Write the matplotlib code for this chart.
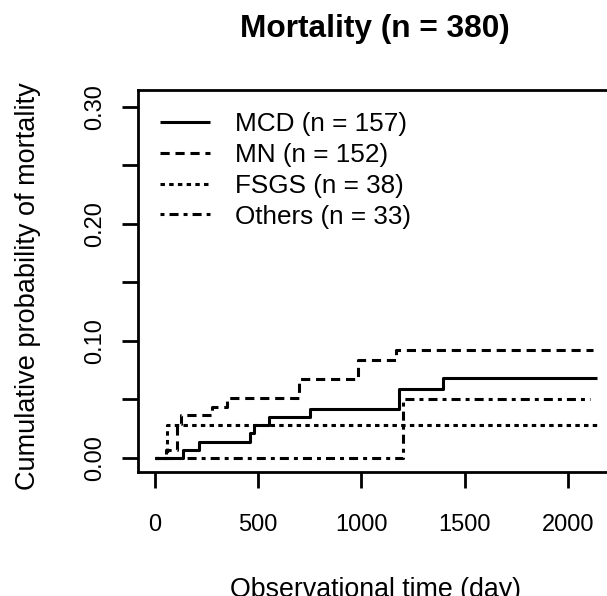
import matplotlib
matplotlib.use("Agg")
import matplotlib.pyplot as plt

plt.rcParams['font.family'] = ['Liberation Sans', 'DejaVu Sans']

# ---- data ----
mcd_t = [0, 137, 215, 460, 478, 554, 751, 1184, 1397, 2140]
mcd_p = [0, 0.0066, 0.0135, 0.021, 0.0275, 0.0345, 0.042, 0.059, 0.068, 0.068]

mn_t = [0, 53, 105, 124, 275, 347, 699, 982, 1166, 2122]
mn_p = [0, 0.0066, 0.029, 0.0365, 0.0436, 0.0513, 0.067, 0.0835, 0.092, 0.092]

fsgs_t = [0, 56, 2140]
fsgs_p = [0, 0.028, 0.028]

oth_t = [0, 1203, 2108]
oth_p = [0, 0.050, 0.050]

labels = ["MCD (n = 157)", "MN (n = 152)", "FSGS (n = 38)", "Others (n = 33)"]
title = "Mortality (n = 380)"
xlabel = "Observational time (day)"
ylabel = "Cumulative probability of mortality"
xticks = [0, 500, 1000, 1500, 2000]
yticks = [0.00, 0.05, 0.10, 0.15, 0.20, 0.25, 0.30]
ytick_labels = ["0.00", "", "0.10", "", "0.20", "", "0.30"]

# ---- figure ----
W, H = 607, 596
fig = plt.figure(figsize=(W / 100, H / 100), dpi=100)

left, right, top, bottom = 137.7, 612.0, 90.0, 471.7
ax = fig.add_axes([left / W, 1 - bottom / H, (right - left) / W, (bottom - top) / H])

lw = 2.2
styles = [
    dict(linestyle='-'),
    dict(linestyle=(0, (3.0, 1.9))),
    dict(linestyle=(0, (1.45, 1.4))),
    dict(linestyle=(0, (1.3, 1.65, 2.95, 1.65))),
]
series = [(mcd_t, mcd_p), (mn_t, mn_p), (fsgs_t, fsgs_p), (oth_t, oth_p)]
for (t, p), st, lab in zip(series, styles, labels):
    ax.step(t, p, where='post', color='black', lw=lw, label=lab,
            solid_capstyle='butt', dash_capstyle='butt', **st)

ax.set_xlim(-83.8, (right - 155) / 0.2064)
ax.set_ylim(-0.012, 0.3143)

for s in ax.spines.values():
    s.set_linewidth(2.0)

ax.set_xticks(xticks)
ax.set_xticklabels([str(v) for v in xticks])
ax.set_yticks(yticks)
ax.set_yticklabels(ytick_labels)
ax.tick_params(axis='both', length=11.5, width=2.0, direction='out')
ax.tick_params(axis='x', labelsize=17, pad=19)
ax.tick_params(axis='y', labelsize=17, pad=11, labelrotation=90)
for lab in ax.get_yticklabels():
    lab.set_verticalalignment('center')

leg = ax.legend(loc='upper left', bbox_to_anchor=(0.047, 0.942), frameon=False,
                fontsize=18.8, handlelength=1.92, handletextpad=0.96,
                labelspacing=0.26, borderpad=0, borderaxespad=0)

fig.text(375 / W, 1 - 37.5 / H, title, ha='center', va='baseline',
         fontsize=22.8, fontweight='bold')
fig.text(376 / W, 1 - 597 / H, xlabel, ha='center', va='baseline', fontsize=19.3)
fig.text(28.5 / W, 1 - 286.5 / H, ylabel, ha='center', va='center',
         rotation=90, fontsize=19.5)

fig.savefig("out.png", dpi=100)
